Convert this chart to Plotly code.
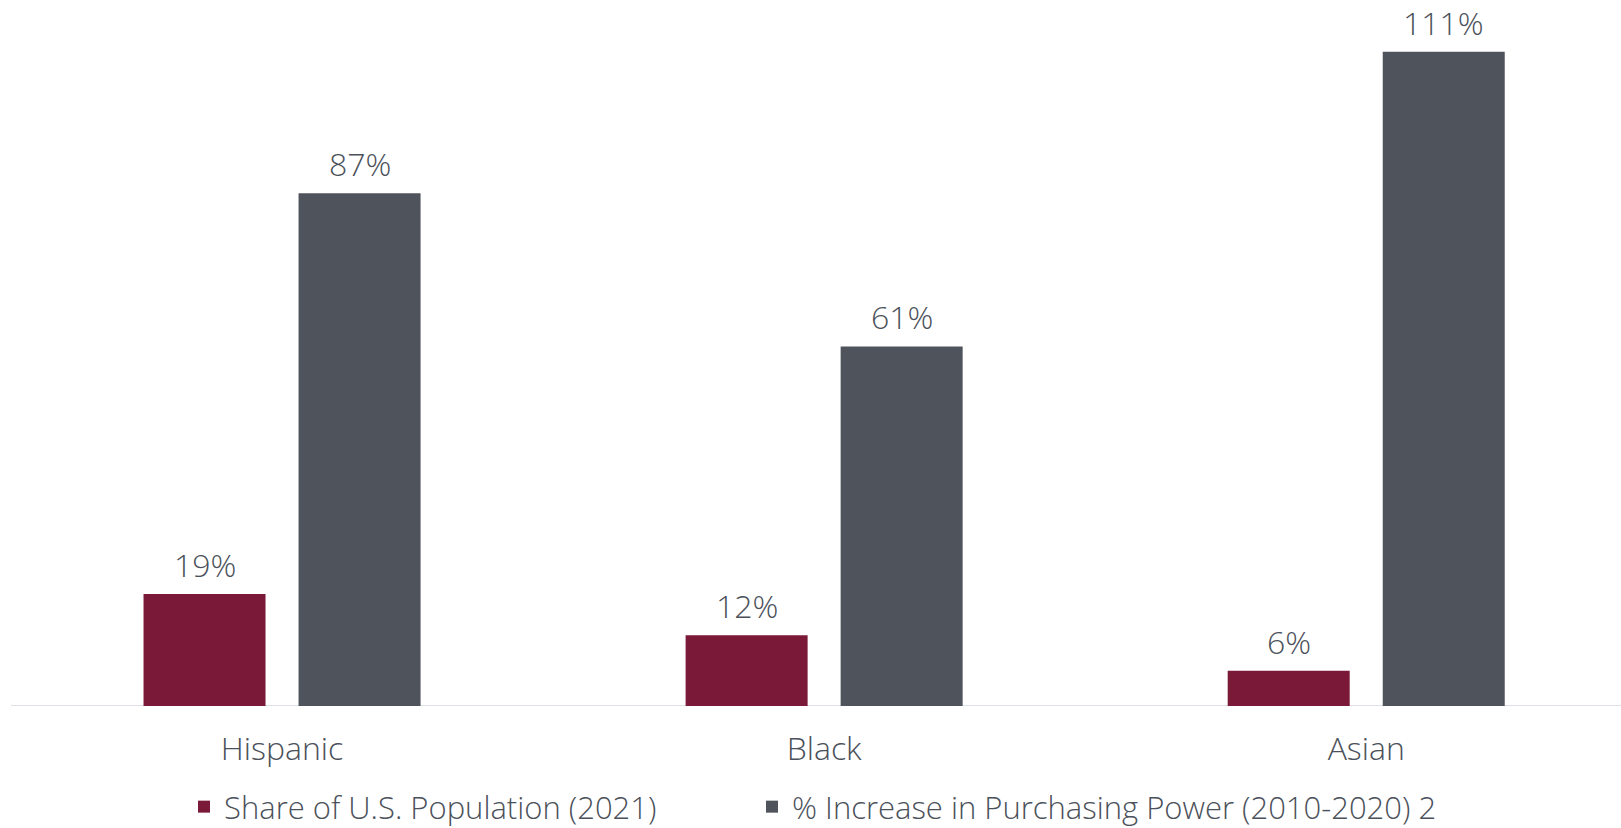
import plotly.graph_objects as go

categories = ["Hispanic", "Black", "Asian"]
share_population = [19, 12, 6]
purchasing_increase = [87, 61, 111]
series_names = ["Share of U.S. Population (2021)", "% Increase in Purchasing Power (2010-2020) 2"]

MAROON = "#7B1A38"
GRAY = "#4F535B"
TEXT = "#4B515A"
FONT = "Open Sans"
FW = 300
FS = 32

W, H = 1621, 828
ML, MR, MT, MB = 11, 0, 20, 122
XR = [-0.5, 2.47]
BARGAP = 0.428
GROUPGAP = 0.213

fnt = dict(family=FONT, size=FS, color=TEXT, weight=FW)
leg_fnt = dict(family=FONT, size=31, color=TEXT, weight=FW)

fig = go.Figure()
fig.add_trace(go.Bar(x=categories, y=share_population, name=series_names[0],
                     marker=dict(color=MAROON, line=dict(width=0)), legend="legend"))
fig.add_trace(go.Bar(x=categories, y=purchasing_increase, name=series_names[1],
                     marker=dict(color=GRAY, line=dict(width=0)), legend="legend2"))

unit_px = (W - ML - MR) / (XR[1] - XR[0])
group_w = unit_px * (1 - BARGAP)
off = group_w / 4

for series, sign in ((share_population, -1), (purchasing_increase, 1)):
    for c, v in zip(categories, series):
        fig.add_annotation(x=c, y=v, xref="x", yref="y", text=f"{v}%",
                           showarrow=False, yanchor="bottom", xshift=sign * off,
                           yshift=7, borderpad=0, font=fnt)

leg_common = dict(orientation="h", xref="container", yref="container",
                  xanchor="left", y=1 - 807 / H, yanchor="middle", font=leg_fnt)
fig.update_layout(
    width=W, height=H,
    margin=dict(l=ML, r=MR, t=MT, b=MB),
    paper_bgcolor="white", plot_bgcolor="white",
    barmode="group", bargap=BARGAP, bargroupgap=GROUPGAP,
    font=fnt,
    showlegend=True,
    legend=dict(x=184 / W, **leg_common),
    legend2=dict(x=752 / W, **leg_common),
    xaxis=dict(range=XR, showgrid=False, zeroline=False, showline=False,
               ticks="outside", ticklen=15, tickcolor="rgba(0,0,0,0)",
               tickfont=fnt),
    yaxis=dict(range=[0, (H - MT - MB) / 5.895], visible=False, showgrid=False,
               zeroline=False),
)
fig.add_shape(type="line", xref="paper", yref="y", x0=0, x1=1, y0=0, y1=0,
              line=dict(color="#DDE0E4", width=2), layer="below")

fig.write_html("out.html")
